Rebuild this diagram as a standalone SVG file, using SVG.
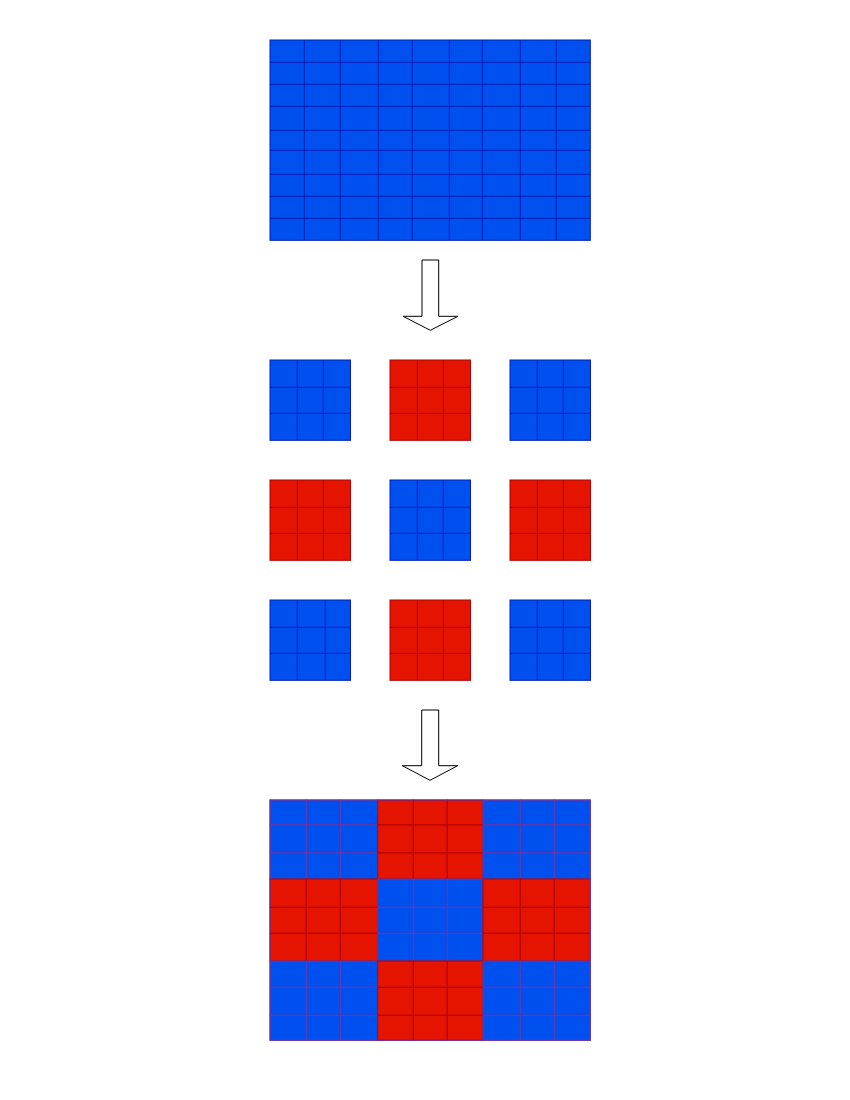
<svg xmlns="http://www.w3.org/2000/svg" width="850" height="1100" viewBox="0 0 850 1100">
<style>
.b{fill:#0050EF;stroke:#001DBC;stroke-width:1}
.r{fill:#E51400;stroke:#B20000;stroke-width:1}
.bl{fill:none;stroke:#001DBC;stroke-width:1}
.rl{fill:none;stroke:#B20000;stroke-width:1}
.bc{fill:#0050EF;stroke:#6A35A8;stroke-width:1}
.rc{fill:#E51400;stroke:#B20000;stroke-width:1}
.arrow{fill:#FFFFFF;stroke:#000000;stroke-width:1}
</style>
<rect width="850" height="1100" fill="#FFFFFF"/>
<defs>
<g id="sb"><rect class="b" x="0" y="0" width="80.5" height="80.3"/><path class="bl" d="M27.3 0V80.3M53.3 0V80.3M0 27.3H80.5M0 53.3H80.5"/></g>
<g id="sr"><rect class="r" x="0" y="0" width="80.5" height="80.3"/><path class="rl" d="M27.3 0V80.3M53.3 0V80.3M0 27.3H80.5M0 53.3H80.5"/></g>
</defs>
<g id="source-grid">
<rect class="b" x="270" y="40" width="320.3" height="200.3"/>
<path class="bl" d="M304.3 40V240.3M340.3 40V240.3M378.3 40V240.3M412.3 40V240.3M449.3 40V240.3M482.3 40V240.3M520.3 40V240.3M556.3 40V240.3M270 62.3H590.3M270 84.3H590.3M270 106.3H590.3M270 130.3H590.3M270 150.3H590.3M270 174.3H590.3M270 196.3H590.3M270 218.3H590.3"/>
</g>
<g id="connectors">
<path class="arrow" d="M422 260H438.7V316.3H458L430.3 330.3L403 316.3H422Z"/>
<path class="arrow" d="M421.7 710H438.7V765.7H457.7L430 780.3L402.3 765.7H421.7Z"/>
</g>
<g id="block-1-1"><use href="#sb" x="270" y="360"/></g>
<g id="block-1-2"><use href="#sr" x="390" y="360"/></g>
<g id="block-1-3"><use href="#sb" x="510" y="360"/></g>
<g id="block-2-1"><use href="#sr" x="270" y="480"/></g>
<g id="block-2-2"><use href="#sb" x="390" y="480"/></g>
<g id="block-2-3"><use href="#sr" x="510" y="480"/></g>
<g id="block-3-1"><rect class="b" x="270" y="600" width="80.5" height="80.3"/><path class="bl" d="M297.3 600V680.3M325.3 600V680.3M270 627.3H350.5M270 653.3H350.5"/></g>
<g id="block-3-2"><use href="#sr" x="390" y="600"/></g>
<g id="block-3-3"><use href="#sb" x="510" y="600"/></g>
<g id="result-grid">
<rect class="bc" x="270" y="800" width="36.3" height="25"/><rect class="bc" x="306.3" y="800" width="34" height="25"/><rect class="bc" x="340.3" y="800" width="37.4" height="25"/>
<rect class="rc" x="377.7" y="800" width="35.6" height="25"/><rect class="rc" x="413.3" y="800" width="34" height="25"/><rect class="rc" x="447.3" y="800" width="35.7" height="25"/>
<rect class="bc" x="483" y="800" width="37.3" height="25"/><rect class="bc" x="520.3" y="800" width="34" height="25"/><rect class="bc" x="554.3" y="800" width="36" height="25"/>
<rect class="bc" x="270" y="825" width="36.3" height="28"/><rect class="bc" x="306.3" y="825" width="34" height="28"/><rect class="bc" x="340.3" y="825" width="37.4" height="28"/>
<rect class="rc" x="377.7" y="825" width="35.6" height="28"/><rect class="rc" x="413.3" y="825" width="34" height="28"/><rect class="rc" x="447.3" y="825" width="35.7" height="28"/>
<rect class="bc" x="483" y="825" width="37.3" height="28"/><rect class="bc" x="520.3" y="825" width="34" height="28"/><rect class="bc" x="554.3" y="825" width="36" height="28"/>
<rect class="bc" x="270" y="853" width="36.3" height="26"/><rect class="bc" x="306.3" y="853" width="34" height="26"/><rect class="bc" x="340.3" y="853" width="37.4" height="26"/>
<rect class="rc" x="377.7" y="853" width="35.6" height="26"/><rect class="rc" x="413.3" y="853" width="34" height="26"/><rect class="rc" x="447.3" y="853" width="35.7" height="26"/>
<rect class="bc" x="483" y="853" width="37.3" height="26"/><rect class="bc" x="520.3" y="853" width="34" height="26"/><rect class="bc" x="554.3" y="853" width="36" height="26"/>
<rect class="rc" x="270" y="879" width="36.3" height="28.3"/><rect class="rc" x="306.3" y="879" width="34" height="28.3"/><rect class="rc" x="340.3" y="879" width="37.4" height="28.3"/>
<rect class="bc" x="377.7" y="879" width="35.6" height="28.3"/><rect class="bc" x="413.3" y="879" width="34" height="28.3"/><rect class="bc" x="447.3" y="879" width="35.7" height="28.3"/>
<rect class="rc" x="483" y="879" width="37.3" height="28.3"/><rect class="rc" x="520.3" y="879" width="34" height="28.3"/><rect class="rc" x="554.3" y="879" width="36" height="28.3"/>
<rect class="rc" x="270" y="907.3" width="36.3" height="26"/><rect class="rc" x="306.3" y="907.3" width="34" height="26"/><rect class="rc" x="340.3" y="907.3" width="37.4" height="26"/>
<rect class="bc" x="377.7" y="907.3" width="35.6" height="26"/><rect class="bc" x="413.3" y="907.3" width="34" height="26"/><rect class="bc" x="447.3" y="907.3" width="35.7" height="26"/>
<rect class="rc" x="483" y="907.3" width="37.3" height="26"/><rect class="rc" x="520.3" y="907.3" width="34" height="26"/><rect class="rc" x="554.3" y="907.3" width="36" height="26"/>
<rect class="rc" x="270" y="933.3" width="36.3" height="27.7"/><rect class="rc" x="306.3" y="933.3" width="34" height="27.7"/><rect class="rc" x="340.3" y="933.3" width="37.4" height="27.7"/>
<rect class="bc" x="377.7" y="933.3" width="35.6" height="27.7"/><rect class="bc" x="413.3" y="933.3" width="34" height="27.7"/><rect class="bc" x="447.3" y="933.3" width="35.7" height="27.7"/>
<rect class="rc" x="483" y="933.3" width="37.3" height="27.7"/><rect class="rc" x="520.3" y="933.3" width="34" height="27.7"/><rect class="rc" x="554.3" y="933.3" width="36" height="27.7"/>
<rect class="bc" x="270" y="961" width="36.3" height="26.3"/><rect class="bc" x="306.3" y="961" width="34" height="26.3"/><rect class="bc" x="340.3" y="961" width="37.4" height="26.3"/>
<rect class="rc" x="377.7" y="961" width="35.6" height="26.3"/><rect class="rc" x="413.3" y="961" width="34" height="26.3"/><rect class="rc" x="447.3" y="961" width="35.7" height="26.3"/>
<rect class="bc" x="483" y="961" width="37.3" height="26.3"/><rect class="bc" x="520.3" y="961" width="34" height="26.3"/><rect class="bc" x="554.3" y="961" width="36" height="26.3"/>
<rect class="bc" x="270" y="987.3" width="36.3" height="28"/><rect class="bc" x="306.3" y="987.3" width="34" height="28"/><rect class="bc" x="340.3" y="987.3" width="37.4" height="28"/>
<rect class="rc" x="377.7" y="987.3" width="35.6" height="28"/><rect class="rc" x="413.3" y="987.3" width="34" height="28"/><rect class="rc" x="447.3" y="987.3" width="35.7" height="28"/>
<rect class="bc" x="483" y="987.3" width="37.3" height="28"/><rect class="bc" x="520.3" y="987.3" width="34" height="28"/><rect class="bc" x="554.3" y="987.3" width="36" height="28"/>
<rect class="bc" x="270" y="1015.3" width="36.3" height="25"/><rect class="bc" x="306.3" y="1015.3" width="34" height="25"/><rect class="bc" x="340.3" y="1015.3" width="37.4" height="25"/>
<rect class="rc" x="377.7" y="1015.3" width="35.6" height="25"/><rect class="rc" x="413.3" y="1015.3" width="34" height="25"/><rect class="rc" x="447.3" y="1015.3" width="35.7" height="25"/>
<rect class="bc" x="483" y="1015.3" width="37.3" height="25"/><rect class="bc" x="520.3" y="1015.3" width="34" height="25"/><rect class="bc" x="554.3" y="1015.3" width="36" height="25"/>
<rect x="270" y="800" width="320.3" height="240.3" fill="none" stroke="#6A35A8" stroke-width="1"/>
</g>
</svg>
